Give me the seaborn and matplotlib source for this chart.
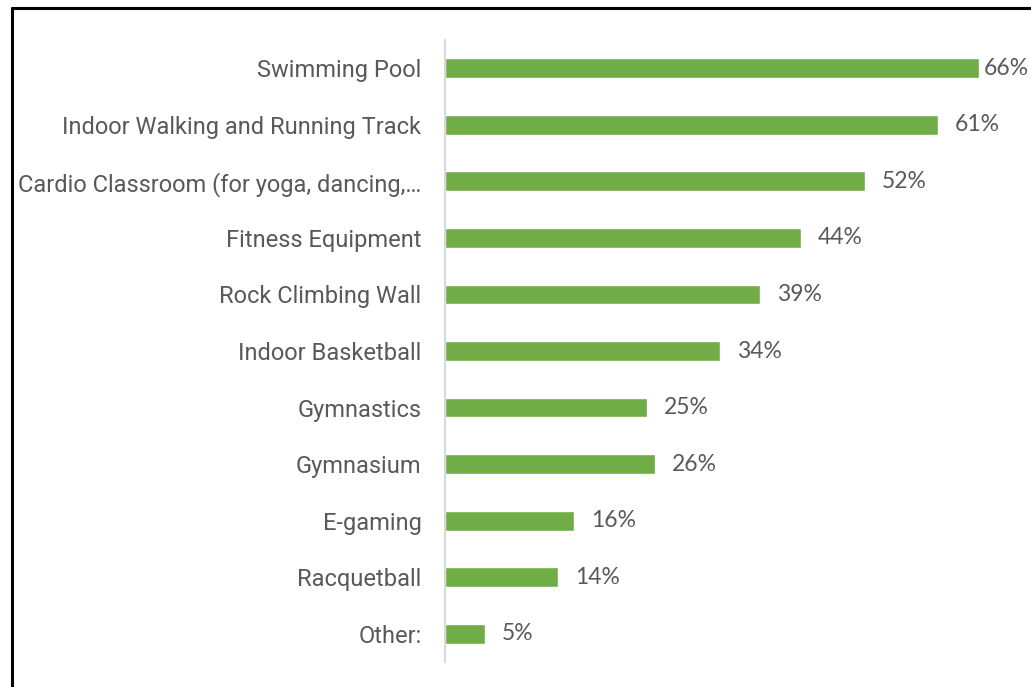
import matplotlib
matplotlib.use("Agg")
import matplotlib.pyplot as plt
import seaborn as sns
import pandas as pd
from matplotlib.lines import Line2D

facilities = ["Swimming Pool", "Indoor Walking and Running Track",
              "Cardio Classroom (for yoga, dancing,\u2026", "Fitness Equipment",
              "Rock Climbing Wall", "Indoor Basketball", "Gymnastics",
              "Gymnasium", "E-gaming", "Racquetball", "Other:"]
percent = [66, 61, 52, 44, 39, 34, 25, 26, 16, 14, 5]

df = pd.DataFrame({"facility": facilities, "pct": percent})

sns.set_style("white")
plt.rcParams['font.family'] = ['Roboto', 'DejaVu Sans']

fig = plt.figure(figsize=(10.31, 6.87), dpi=100)
ax = fig.add_axes([445 / 1031, 1 - 662 / 687, 566 / 1031, 622 / 687])

sns.barplot(data=df, x="pct", y="facility", color="#70AD47", width=0.35,
            saturation=1, ax=ax)

ax.set_xlim(0, 70)
ax.set_ylim(10.5, -0.5)
ax.set_xlabel("")
ax.set_ylabel("")
ax.set_xticks([])
for s in ["top", "right", "bottom"]:
    ax.spines[s].set_visible(False)
ax.spines["left"].set_color("#D9D9D9")
ax.spines["left"].set_linewidth(1.5)
ax.tick_params(axis="y", length=0, pad=17, labelsize=17, labelcolor="#595959")

# data labels; the top one is squeezed against the edge like in Excel
labels = [f"{v}%" for v in percent]
ax.bar_label(ax.containers[0], labels=[""] + labels[1:], padding=12,
             fontsize=16.5, color="#595959", family=["Lato", "DejaVu Sans"])
ax.bar_label(ax.containers[0], labels=labels[:1] + [""] * (len(labels) - 1),
             padding=4, fontsize=16.5, color="#595959", family=["Lato", "DejaVu Sans"])

# frame of the cropped chart area
fig.add_artist(Line2D([11.5 / 1031, 11.5 / 1031], [0, 1 - 7.5 / 687],
                      color="black", lw=2.2, transform=fig.transFigure))
fig.add_artist(Line2D([11.5 / 1031, 1], [1 - 7.5 / 687, 1 - 7.5 / 687],
                      color="black", lw=2.2, transform=fig.transFigure))

fig.savefig("out.png", dpi=100)
